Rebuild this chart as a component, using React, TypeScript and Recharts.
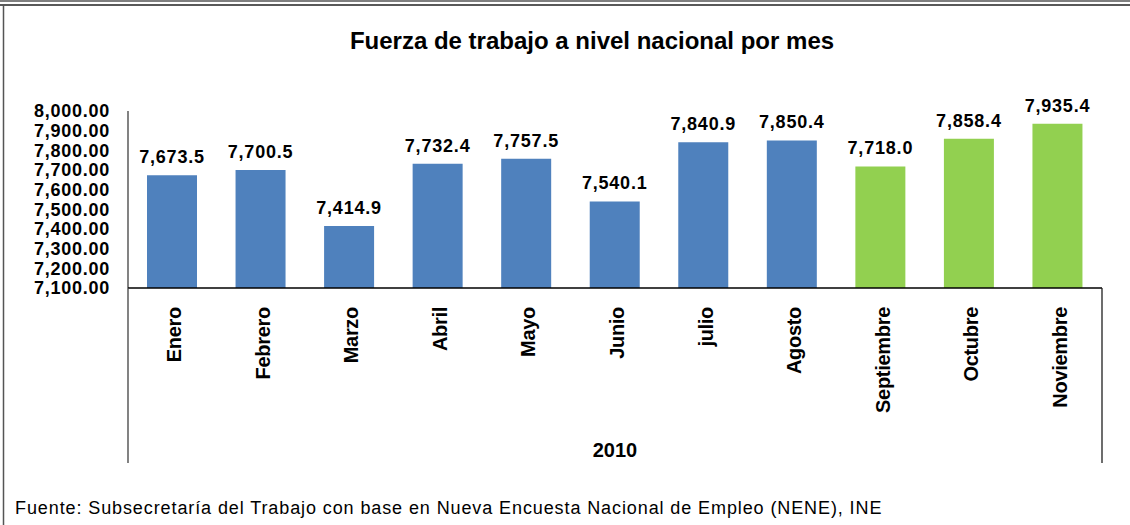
import React from 'react';
import { BarChart, Bar, XAxis, YAxis, Cell, LabelList } from 'recharts';

const months = ['Enero', 'Febrero', 'Marzo', 'Abril', 'Mayo', 'Junio', 'julio', 'Agosto', 'Septiembre', 'Octubre', 'Noviembre'];
const values = [7673.5, 7700.5, 7414.9, 7732.4, 7757.5, 7540.1, 7840.9, 7850.4, 7718.0, 7858.4, 7935.4];
const yTicks = [7100, 7200, 7300, 7400, 7500, 7600, 7700, 7800, 7900, 8000];
const yearLabel = '2010';
const title = 'Fuerza de trabajo a nivel nacional por mes';
const source = 'Fuente: Subsecretaría del Trabajo con base en Nueva Encuesta Nacional de Empleo (NENE), INE';
const highlightFrom = 8; // Septiembre onward drawn in green

const BLUE = '#4F81BD';
const GREEN = '#92D050';
const FONT = '"Liberation Sans", Arial, Helvetica, sans-serif';
const AXIS_H = 175;

const data = months.map((m, i) => ({ month: m, value: values[i] }));

const fmtTick = (v: number) => v.toLocaleString('en-US', { minimumFractionDigits: 2, maximumFractionDigits: 2 });
const fmtLabel = (v: any) => Number(v).toLocaleString('en-US', { minimumFractionDigits: 1, maximumFractionDigits: 1 });

const MonthTick = (props: any) => {
  const { x, y, payload, index, visibleTicksCount, width } = props;
  const half = payload && payload.offset ? payload.offset : (width && visibleTicksCount ? width / visibleTicksCount / 2 : 44);
  return (
    <g>
      <text
        transform={`translate(${x + 9},${y + 19}) rotate(-90)`}
        textAnchor="end"
        fontFamily={FONT}
        fontWeight="bold"
        fontSize={20}
        letterSpacing={-0.3}
        fill="#000"
      >
        {payload.value}
      </text>
      {index === 0 && <line x1={x - half} x2={x - half} y1={y} y2={y + AXIS_H} stroke="#404040" strokeWidth={1.3} />}
      {index === visibleTicksCount - 1 && <line x1={x + half} x2={x + half} y1={y} y2={y + AXIS_H} stroke="#202020" strokeWidth={1.3} />}
    </g>
  );
};

export default function App() {
  return (
    <div style={{ position: 'absolute', left: 0, top: 0, width: 1130, height: 525, background: '#fff' }}>
      <BarChart
        width={1130}
        height={525}
        data={data}
        margin={{ top: 111, right: 28, bottom: 62, left: 0 }}
      >
        <YAxis
          type="number"
          domain={[7100, 8000]}
          ticks={yTicks}
          interval={0}
          width={128}
          tickLine={false}
          tickSize={0}
          tickMargin={18}
          tickFormatter={fmtTick}
          axisLine={{ stroke: '#404040', strokeWidth: 1.3 }}
          tick={{ fill: '#000', fontFamily: FONT, fontWeight: 'bold', fontSize: 18, letterSpacing: 0.75 } as any}
          allowDataOverflow
        />
        <XAxis
          dataKey="month"
          type="category"
          interval={0}
          height={AXIS_H}
          tickLine={false}
          tickSize={0}
          tickMargin={0}
          axisLine={{ stroke: '#000', strokeWidth: 1.3 }}
          tick={<MonthTick />}
          label={{ value: yearLabel, position: 'insideBottom', offset: 6, fill: '#000', fontFamily: FONT, fontWeight: 'bold', fontSize: 20 } as any}
        />
        <Bar dataKey="value" barSize={50} isAnimationActive={false}>
          {data.map((d, i) => (
            <Cell key={d.month} fill={i >= highlightFrom ? GREEN : BLUE} />
          ))}
          <LabelList
            dataKey="value"
            position="top"
            offset={12}
            formatter={fmtLabel}
            fill="#000"
            fontFamily={FONT}
            fontWeight="bold"
            fontSize={18}
            letterSpacing={0.8}
          />
        </Bar>
      </BarChart>
      <svg width={1130} height={525} style={{ position: 'absolute', left: 0, top: 0, pointerEvents: 'none' }}>
        <line x1={0} x2={1130} y1={1} y2={1} stroke="#555" strokeWidth={1.5} />
        <line x1={0} x2={1130} y1={5} y2={5} stroke="#222" strokeWidth={1.5} />
        <line x1={3.5} x2={3.5} y1={5} y2={525} stroke="#555" strokeWidth={1.5} />
        <text x={592} y={49} textAnchor="middle" fontFamily={FONT} fontWeight="bold" fontSize={24} fill="#000">
          {title}
        </text>
        <text x={15} y={514} fontFamily={FONT} fontSize={18} letterSpacing={0.9} fill="#000">
          {source}
        </text>
      </svg>
    </div>
  );
}
